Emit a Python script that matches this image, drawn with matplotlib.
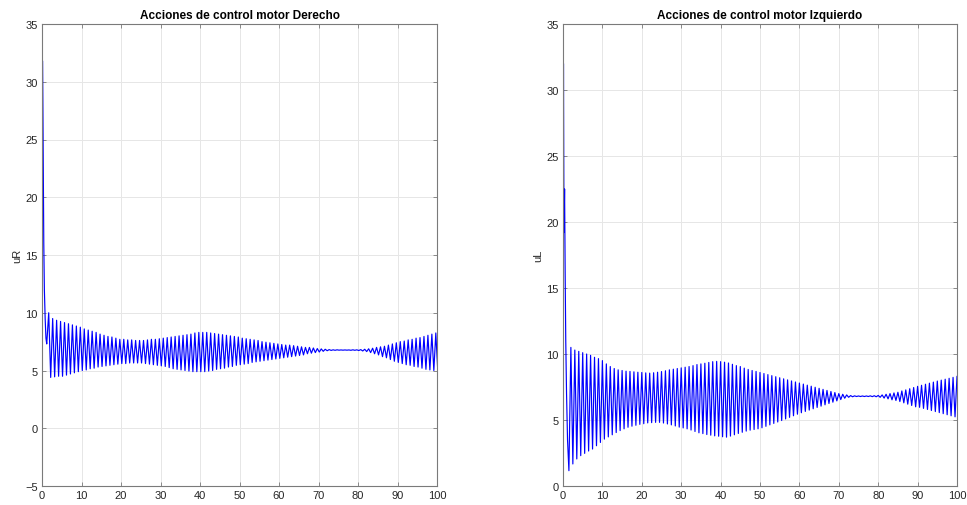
import numpy as np
import matplotlib
matplotlib.use("Agg")
import matplotlib.pyplot as plt

plt.rcParams['font.family'] = ['Liberation Sans', 'DejaVu Sans']

# ---------------- uR (right motor) ----------------
uR_start_t = [0.0, 0.15, 0.3, 0.45, 0.6, 0.8, 1.0, 1.2]
uR_start_v = [8.0, 31.8, 24.0, 16.0, 12.0, 9.5, 7.8, 7.3]
uR_first_peak = 1.7      # time of the first oscillation maximum
uR_period = 1.0          # oscillation period
uR_max = [
    10.0, 9.5, 9.35, 9.25, 9.15, 9.05, 8.95, 8.85, 8.75, 8.6,
    8.5, 8.4, 8.3, 8.15, 8.05, 7.95, 7.9, 7.8, 7.7, 7.7,
    7.65, 7.65, 7.6, 7.6, 7.6, 7.65, 7.7, 7.7, 7.75, 7.8,
    7.85, 7.9, 7.95, 8.0, 8.05, 8.1, 8.15, 8.25, 8.3, 8.3,
    8.3, 8.25, 8.2, 8.15, 8.1, 8.05, 8.0, 7.95, 7.9, 7.8,
    7.75, 7.7, 7.65, 7.6, 7.5, 7.45, 7.4, 7.35, 7.3, 7.25,
    7.2, 7.2, 7.15, 7.1, 7.05, 7.0, 7.0, 6.95, 6.9, 6.87,
    6.84, 6.81, 6.79, 6.79, 6.78, 6.78, 6.78, 6.79, 6.79, 6.81,
    6.84, 6.88, 6.93, 7.0, 7.05, 7.1, 7.2, 7.3, 7.4, 7.5,
    7.55, 7.65, 7.7, 7.8, 7.85, 7.95, 8.05, 8.15, 8.25,
]
uR_min = [
    4.4, 4.45, 4.5, 4.5, 4.6, 4.7, 4.8, 4.9, 5.0, 5.05,
    5.15, 5.2, 5.3, 5.35, 5.4, 5.45, 5.5, 5.55, 5.6, 5.6,
    5.65, 5.65, 5.65, 5.65, 5.6, 5.55, 5.5, 5.45, 5.4, 5.35,
    5.25, 5.15, 5.1, 5.05, 5.0, 4.95, 4.9, 4.9, 4.9, 4.9,
    4.95, 5.0, 5.1, 5.15, 5.2, 5.3, 5.35, 5.45, 5.5, 5.55,
    5.6, 5.7, 5.75, 5.8, 5.85, 5.9, 5.95, 6.0, 6.05, 6.1,
    6.15, 6.2, 6.25, 6.3, 6.35, 6.45, 6.5, 6.55, 6.6, 6.66,
    6.71, 6.74, 6.75, 6.76, 6.76, 6.76, 6.75, 6.75, 6.73, 6.69,
    6.64, 6.55, 6.45, 6.35, 6.2, 6.1, 5.95, 5.8, 5.7, 5.6,
    5.5, 5.45, 5.35, 5.3, 5.2, 5.1, 5.05, 5.0, 4.95,
]

# ---------------- uL (left motor) ----------------
uL_start_t = [0.0, 0.12, 0.25, 0.4, 0.55, 0.7, 0.9, 1.15]
uL_start_v = [8.0, 32.0, 19.2, 22.5, 16.0, 11.0, 7.0, 3.5]
uL_first_trough = 1.5    # time of the first oscillation minimum
uL_period = 1.0
uL_min = [
    1.16, 1.67, 2.05, 2.3, 2.47, 2.65, 2.8, 3.05, 3.3, 3.55,
    3.72, 3.88, 4.05, 4.2, 4.33, 4.45, 4.53, 4.6, 4.67, 4.72,
    4.78, 4.8, 4.82, 4.82, 4.77, 4.7, 4.63, 4.55, 4.46, 4.4,
    4.33, 4.24, 4.13, 4.03, 3.97, 3.9, 3.85, 3.8, 3.77, 3.73,
    3.7, 3.78, 3.88, 3.98, 4.07, 4.16, 4.23, 4.28, 4.33, 4.41,
    4.52, 4.63, 4.74, 4.85, 4.96, 5.08, 5.2, 5.32, 5.44, 5.55,
    5.65, 5.75, 5.85, 5.95, 6.05, 6.15, 6.25, 6.35, 6.45, 6.55,
    6.65, 6.72, 6.76, 6.78, 6.78, 6.78, 6.78, 6.77, 6.76, 6.72,
    6.66, 6.6, 6.53, 6.48, 6.4, 6.3, 6.2, 6.1, 6.0, 5.96,
    5.88, 5.8, 5.72, 5.64, 5.56, 5.48, 5.4, 5.32, 5.24,
]
uL_max = [
    10.5, 10.3, 10.2, 10.1, 10.0, 9.9, 9.75, 9.65, 9.5, 9.25,
    9.05, 8.9, 8.8, 8.75, 8.7, 8.68, 8.65, 8.62, 8.6, 8.57,
    8.55, 8.58, 8.62, 8.67, 8.73, 8.8, 8.85, 8.9, 8.95, 9.0,
    9.05, 9.12, 9.2, 9.25, 9.3, 9.36, 9.42, 9.44, 9.42, 9.38,
    9.32, 9.22, 9.12, 9.05, 8.93, 8.83, 8.75, 8.68, 8.6, 8.52,
    8.44, 8.36, 8.28, 8.2, 8.12, 8.04, 7.96, 7.88, 7.8, 7.72,
    7.64, 7.56, 7.48, 7.4, 7.32, 7.24, 7.16, 7.08, 7.0, 6.95,
    6.9, 6.85, 6.83, 6.82, 6.82, 6.82, 6.83, 6.84, 6.86, 6.9,
    6.95, 7.0, 7.05, 7.1, 7.2, 7.28, 7.37, 7.46, 7.55, 7.63,
    7.71, 7.79, 7.87, 7.95, 8.02, 8.09, 8.16, 8.23, 8.3,
]


def zigzag(start_t, start_v, first, period, first_vals, second_vals):
    """Alternate extreme values at half-period steps after the start-up transient."""
    n = len(first_vals)
    t_first = first + period * np.arange(n)
    t_second = t_first + period / 2
    t = np.empty(2 * n)
    v = np.empty(2 * n)
    t[0::2], t[1::2] = t_first, t_second
    v[0::2], v[1::2] = first_vals, second_vals
    return np.concatenate([start_t, t]), np.concatenate([start_v, v])


tR, vR = zigzag(uR_start_t, uR_start_v, uR_first_peak, uR_period, uR_max, uR_min)
tL, vL = zigzag(uL_start_t, uL_start_v, uL_first_trough, uL_period, uL_min, uL_max)

fig = plt.figure(figsize=(9.67, 5.06), dpi=100)
fig.patch.set_facecolor('white')

panels = [
    dict(rect=[42 / 967, 19 / 506, 395 / 967, 462 / 506], t=tR, v=vR,
         ylim=(-5, 35), yticks=np.arange(-5, 36, 5), ylabel='uR',
         title='Acciones de control motor Derecho'),
    dict(rect=[563 / 967, 19 / 506, 394 / 967, 462 / 506], t=tL, v=vL,
         ylim=(0, 35), yticks=np.arange(0, 36, 5), ylabel='uL',
         title='Acciones de control motor Izquierdo'),
]

for p in panels:
    ax = fig.add_axes(p['rect'])
    ax.plot(p['t'], p['v'], color=(0, 0, 1), lw=0.85)
    ax.set_xlim(0, 100)
    ax.set_ylim(*p['ylim'])
    ax.set_xticks(np.arange(0, 101, 10))
    ax.set_yticks(p['yticks'])
    ax.grid(True, color='#e6e6e6', lw=0.7)
    ax.set_axisbelow(True)
    for s in ax.spines.values():
        s.set_color('#7a7a7a')
        s.set_linewidth(0.8)
    ax.tick_params(direction='in', length=3, width=0.6, colors='#7a7a7a',
                   labelcolor='#262626', labelsize=8, top=True, right=True,
                   pad=3)
    ax.set_title(p['title'], fontsize=8.5, fontweight='bold', color='black', pad=4)
    ax.set_ylabel(p['ylabel'], fontsize=8, color='#262626', labelpad=2)

fig.savefig('out.png', dpi=100, facecolor='white')
